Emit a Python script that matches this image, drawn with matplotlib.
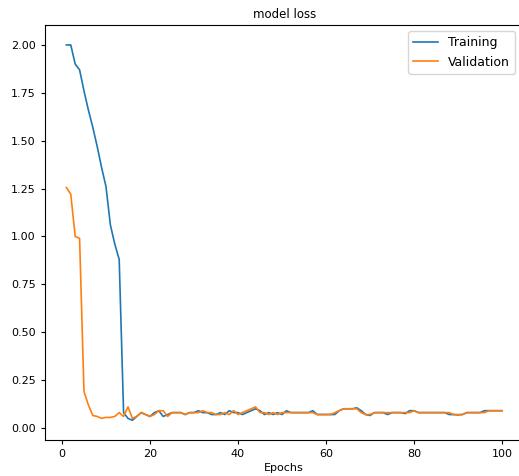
import matplotlib
matplotlib.use("Agg")
import matplotlib.pyplot as plt

epochs = list(range(1, 101))

training = [
    2.00, 2.00, 1.90, 1.87, 1.76, 1.66, 1.57, 1.47, 1.36, 1.26,
    1.06, 0.96, 0.88, 0.08, 0.05, 0.04, 0.06, 0.08, 0.07, 0.06,
    0.08, 0.09, 0.06, 0.07, 0.08, 0.08, 0.08, 0.07, 0.08, 0.08,
    0.09, 0.08, 0.08, 0.07, 0.07, 0.08, 0.07, 0.09, 0.08, 0.08,
    0.07, 0.08, 0.09, 0.10, 0.09, 0.07, 0.08, 0.07, 0.08, 0.07,
    0.09, 0.08, 0.08, 0.08, 0.08, 0.08, 0.09, 0.07, 0.07, 0.07,
    0.07, 0.07, 0.09, 0.10, 0.10, 0.10, 0.105, 0.09, 0.07, 0.065,
    0.08, 0.08, 0.08, 0.07, 0.08, 0.08, 0.08, 0.075, 0.09, 0.09,
    0.08, 0.08, 0.08, 0.08, 0.08, 0.08, 0.08, 0.07, 0.07, 0.068,
    0.07, 0.08, 0.08, 0.08, 0.08, 0.09, 0.09, 0.09, 0.09, 0.09,
]

validation = [
    1.255, 1.22, 1.00, 0.99, 0.19, 0.12, 0.065, 0.06, 0.05, 0.055,
    0.055, 0.06, 0.08, 0.06, 0.11, 0.05, 0.06, 0.08, 0.07, 0.06,
    0.07, 0.09, 0.09, 0.06, 0.08, 0.08, 0.08, 0.07, 0.08, 0.08,
    0.08, 0.09, 0.08, 0.08, 0.07, 0.07, 0.08, 0.07, 0.09, 0.07,
    0.08, 0.09, 0.10, 0.11, 0.08, 0.08, 0.07, 0.08, 0.07, 0.08,
    0.08, 0.08, 0.08, 0.08, 0.08, 0.08, 0.08, 0.07, 0.07, 0.07,
    0.07, 0.08, 0.09, 0.10, 0.10, 0.10, 0.10, 0.08, 0.07, 0.07,
    0.08, 0.08, 0.08, 0.08, 0.08, 0.08, 0.08, 0.08, 0.08, 0.09,
    0.08, 0.08, 0.08, 0.08, 0.08, 0.08, 0.08, 0.08, 0.07, 0.07,
    0.07, 0.08, 0.08, 0.08, 0.08, 0.08, 0.09, 0.09, 0.09, 0.09,
]

fig = plt.figure(figsize=(5.19, 4.76), dpi=100)
ax = fig.add_axes([44.6 / 519, 36 / 476, 479.2 / 519, 415 / 476])
ax.plot(epochs, training, color="#1f77b4", lw=1.2, label="Training")
ax.plot(epochs, validation, color="#ff7f0e", lw=1.2, label="Validation")
ax.set_ylim(-0.063, 2.104)
ax.set_xlim(-3.95, 104.95)
ax.set_xticks([0, 20, 40, 60, 80, 100])
ax.set_yticks([0.0, 0.25, 0.5, 0.75, 1.0, 1.25, 1.5, 1.75, 2.0])
ax.set_title("model loss", fontsize=8.5, pad=5)
ax.set_xlabel("Epochs", fontsize=8, labelpad=3)
ax.tick_params(labelsize=8, width=0.8, length=3)
for s in ax.spines.values():
    s.set_linewidth(0.8)
ax.legend(loc="upper right", fontsize=9, bbox_to_anchor=(0.995, 1.0))
fig.savefig("out.png", dpi=100)
